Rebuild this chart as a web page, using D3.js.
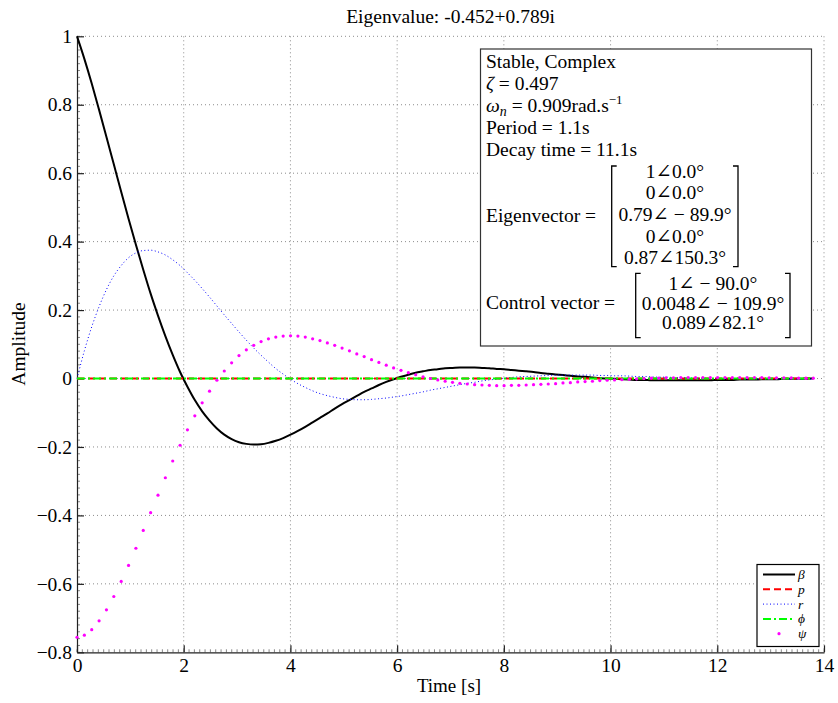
<!DOCTYPE html>
<html>
<head>
<meta charset="utf-8">
<script src="https://cdn.jsdelivr.net/npm/d3@7"></script>
<style>
body { margin: 0; background: #fff; }
svg text { font-family: "Liberation Serif", "DejaVu Serif", serif; fill: #000; }
</style>
</head>
<body>
<div id="chart"></div>
<script>
// time samples (s)
const time = [0, 0.138, 0.276, 0.414, 0.552, 0.69, 0.828, 0.966, 1.104, 1.242, 1.38, 1.518, 1.656, 1.794, 1.932,
  2.07, 2.208, 2.346, 2.484, 2.622, 2.76, 2.898, 3.036, 3.174, 3.312, 3.45, 3.588, 3.726, 3.864, 4.002,
  4.14, 4.278, 4.416, 4.554, 4.692, 4.83, 4.968, 5.106, 5.244, 5.382, 5.52, 5.658, 5.796, 5.934, 6.072,
  6.21, 6.348, 6.486, 6.624, 6.762, 6.9, 7.038, 7.176, 7.314, 7.452, 7.59, 7.728, 7.866, 8.004, 8.142,
  8.28, 8.418, 8.556, 8.694, 8.832, 8.97, 9.108, 9.246, 9.384, 9.522, 9.66, 9.798, 9.936, 10.074, 10.212,
  10.35, 10.488, 10.626, 10.764, 10.902, 11.04, 11.178, 11.316, 11.454, 11.592, 11.73, 11.868, 12.006, 12.144,
  12.282, 12.42, 12.558, 12.696, 12.834, 12.972, 13.11, 13.248, 13.386, 13.524, 13.662, 13.8];

const betaValues = [1.000, 0.934, 0.862, 0.785, 0.706, 0.626, 0.546, 0.467, 0.391, 0.318, 0.248, 0.184, 0.124, 0.069, 0.019,
  -0.024, -0.063, -0.096, -0.123, -0.146, -0.164, -0.177, -0.186, -0.191, -0.193, -0.192, -0.188, -0.182, -0.174, -0.164,
  -0.153, -0.141, -0.128, -0.115, -0.102, -0.088, -0.075, -0.063, -0.051, -0.039, -0.029, -0.019, -0.010, -0.002, 0.005,
  0.011, 0.017, 0.021, 0.025, 0.027, 0.030, 0.031, 0.032, 0.032, 0.032, 0.031, 0.030, 0.028, 0.027, 0.025,
  0.023, 0.021, 0.019, 0.016, 0.014, 0.012, 0.010, 0.008, 0.006, 0.005, 0.003, 0.001, 0.000, -0.001, -0.002,
  -0.003, -0.004, -0.004, -0.005, -0.005, -0.005, -0.005, -0.005, -0.005, -0.005, -0.005, -0.005, -0.004, -0.004, -0.004,
  -0.003, -0.003, -0.003, -0.002, -0.002, -0.002, -0.001, -0.001, -0.001, 0.000, 0.000];

const rValues = [0.000, 0.081, 0.151, 0.210, 0.260, 0.300, 0.330, 0.353, 0.367, 0.374, 0.375, 0.370, 0.361, 0.347, 0.330,
  0.309, 0.287, 0.263, 0.238, 0.212, 0.186, 0.161, 0.136, 0.112, 0.089, 0.068, 0.048, 0.029, 0.013, -0.002,
  -0.015, -0.026, -0.036, -0.044, -0.050, -0.055, -0.059, -0.061, -0.062, -0.062, -0.061, -0.059, -0.057, -0.054, -0.051,
  -0.047, -0.043, -0.039, -0.034, -0.030, -0.026, -0.022, -0.018, -0.014, -0.011, -0.007, -0.004, -0.002, 0.001, 0.003,
  0.005, 0.006, 0.007, 0.008, 0.009, 0.010, 0.010, 0.010, 0.010, 0.010, 0.010, 0.009, 0.009, 0.008, 0.008,
  0.007, 0.006, 0.006, 0.005, 0.004, 0.004, 0.003, 0.002, 0.002, 0.001, 0.001, 0.000, 0.000, 0.000, -0.001,
  -0.001, -0.001, -0.001, -0.002, -0.002, -0.002, -0.002, -0.002, -0.002, -0.002, -0.002];

const psiValues = [-0.756, -0.750, -0.734, -0.708, -0.676, -0.637, -0.593, -0.546, -0.496, -0.444, -0.392, -0.341, -0.290, -0.241, -0.195,
  -0.150, -0.109, -0.071, -0.037, -0.005, 0.022, 0.046, 0.067, 0.084, 0.097, 0.108, 0.116, 0.121, 0.124, 0.125,
  0.124, 0.121, 0.116, 0.111, 0.104, 0.097, 0.089, 0.081, 0.072, 0.064, 0.055, 0.047, 0.039, 0.031, 0.024,
  0.017, 0.011, 0.005, 0.000, -0.004, -0.008, -0.011, -0.014, -0.016, -0.018, -0.019, -0.020, -0.021, -0.021, -0.020,
  -0.020, -0.019, -0.018, -0.017, -0.016, -0.015, -0.013, -0.012, -0.010, -0.009, -0.008, -0.006, -0.005, -0.004, -0.003,
  -0.002, -0.001, 0.000, 0.001, 0.001, 0.002, 0.002, 0.003, 0.003, 0.003, 0.003, 0.003, 0.003, 0.003, 0.003,
  0.003, 0.003, 0.003, 0.003, 0.002, 0.002, 0.002, 0.002, 0.001, 0.001, 0.001];

// p and phi stay at zero over the whole run
const flatTime = [0, 13.8];
const pValues = [0, 0];
const phiValues = [0, 0];

const xTicks = [0, 2, 4, 6, 8, 10, 12, 14];
const yTicks = [-0.8, -0.6, -0.4, -0.2, 0, 0.2, 0.4, 0.6, 0.8, 1];

const titleText = "Eigenvalue: -0.452+0.789i";
const eigenvectorRows = ["1∠0.0°", "0∠0.0°", "0.79∠ − 89.9°", "0∠0.0°", "0.87∠150.3°"];
const controlRows = ["1∠ − 90.0°", "0.0048∠ − 109.9°", "0.089∠82.1°"];

const width = 838, height = 703;
const plotLeft = 77, plotRight = 824, plotTop = 36.3, plotBottom = 652.3;

const svg = d3.select("#chart").append("svg")
  .attr("width", width)
  .attr("height", height);

const x = d3.scaleLinear().domain([0, 14]).range([plotLeft, plotRight]);
const y = d3.scaleLinear().domain([-0.8, 1]).range([plotBottom, plotTop]);

// dotted grid
svg.append("g").selectAll("line").data(xTicks.slice(1)).join("line")
  .attr("x1", d => x(d)).attr("x2", d => x(d))
  .attr("y1", plotTop).attr("y2", plotBottom)
  .attr("stroke", "#8c8c8c").attr("stroke-dasharray", "1,3");
svg.append("g").selectAll("line").data(yTicks.slice(1)).join("line")
  .attr("x1", plotLeft).attr("x2", plotRight)
  .attr("y1", d => y(d)).attr("y2", d => y(d))
  .attr("stroke", "#8c8c8c").attr("stroke-dasharray", "1,3");

// minor ticks
svg.append("g").selectAll("line").data(d3.range(0, 14.001, 0.1)).join("line")
  .attr("x1", d => x(d)).attr("x2", d => x(d))
  .attr("y1", plotBottom).attr("y2", plotBottom - 3)
  .attr("stroke", "#555").attr("stroke-width", 0.7);
svg.append("g").selectAll("line").data(d3.range(-0.8, 1.001, 0.02)).join("line")
  .attr("x1", plotLeft).attr("x2", plotLeft + 3)
  .attr("y1", d => y(d)).attr("y2", d => y(d))
  .attr("stroke", "#555").attr("stroke-width", 0.7);

// axes
const fmt = d3.format("~g");
const xAxis = svg.append("g")
  .attr("transform", `translate(0,${plotBottom})`)
  .call(d3.axisBottom(x).tickValues(xTicks).tickFormat(fmt).tickSizeInner(-7).tickSizeOuter(0).tickPadding(6));
const yAxis = svg.append("g")
  .attr("transform", `translate(${plotLeft},0)`)
  .call(d3.axisLeft(y).tickValues(yTicks).tickFormat(fmt).tickSizeInner(-7).tickSizeOuter(0).tickPadding(5));
[xAxis, yAxis].forEach(g => {
  g.selectAll("text").style("font-family", '"Liberation Serif", serif').style("font-size", "19.5px");
  g.select(".domain").attr("stroke", "#222").attr("stroke-width", 1.2);
  g.selectAll(".tick line").attr("stroke", "#222").attr("stroke-width", 1.2);
});

// series
const line = d3.line().x(d => x(d[0])).y(d => y(d[1])).curve(d3.curveMonotoneX);

svg.append("path").datum(d3.zip(time, betaValues))
  .attr("d", line).attr("fill", "none")
  .attr("stroke", "#000").attr("stroke-width", 2);

svg.append("path").datum(d3.zip(flatTime, pValues))
  .attr("d", line).attr("fill", "none")
  .attr("stroke", "#ff0000").attr("stroke-width", 2).attr("stroke-dasharray", "7,4");

svg.append("path").datum(d3.zip(time, rValues))
  .attr("d", line).attr("fill", "none")
  .attr("stroke", "#0000ff").attr("stroke-width", 1).attr("stroke-dasharray", "1,2.5");

svg.append("path").datum(d3.zip(flatTime, phiValues))
  .attr("d", line).attr("fill", "none")
  .attr("stroke", "#00ff00").attr("stroke-width", 2).attr("stroke-dasharray", "8,3,2,3");

svg.append("g").selectAll("circle").data(d3.zip(time, psiValues)).join("circle")
  .attr("cx", d => x(d[0])).attr("cy", d => y(d[1]))
  .attr("r", 1.6).attr("fill", "#ff00ff");

// title and axis labels
svg.append("text").attr("x", (plotLeft + plotRight) / 2).attr("y", 22.7)
  .attr("text-anchor", "middle").style("font-size", "19.5px").text(titleText);
svg.append("text").attr("x", 449).attr("y", 692)
  .attr("text-anchor", "middle").style("font-size", "19px").text("Time [s]");
svg.append("text").attr("transform", "translate(25,344) rotate(-90)")
  .attr("text-anchor", "middle").style("font-size", "19.5px").text("Amplitude");

// info box
const info = svg.append("g").style("font-size", "19.5px");
info.append("rect").attr("x", 480.5).attr("y", 49).attr("width", 331).attr("height", 297)
  .attr("fill", "#fff").attr("stroke", "#333").attr("stroke-width", 1.2);

const tx = 486;
info.append("text").attr("x", tx).attr("y", 68.3).text("Stable, Complex");
let t = info.append("text").attr("x", tx).attr("y", 89.5);
t.append("tspan").style("font-style", "italic").text("ζ");
t.append("tspan").text(" = 0.497");
t = info.append("text").attr("x", tx).attr("y", 111.7);
t.append("tspan").style("font-style", "italic").text("ω");
t.append("tspan").style("font-style", "italic").style("font-size", "14px").attr("dy", 4).text("n");
t.append("tspan").attr("dy", -4).text(" = 0.909rad.s");
t.append("tspan").style("font-size", "13px").attr("dy", -8).text("−1");
info.append("text").attr("x", tx).attr("y", 134.3).text("Period = 1.1s");
info.append("text").attr("x", tx).attr("y", 156).text("Decay time = 11.1s");

function bracket(x0, x1, y0, y1) {
  const s = 5;
  info.append("path")
    .attr("d", `M${x0 + s},${y0}H${x0}V${y1}H${x0 + s}M${x1 - s},${y0}H${x1}V${y1}H${x1 - s}`)
    .attr("fill", "none").attr("stroke", "#000").attr("stroke-width", 1.3);
}

info.append("text").attr("x", tx).attr("y", 221.7).text("Eigenvector =");
bracket(611.7, 738, 166, 266.7);
info.append("g").selectAll("text").data(eigenvectorRows).join("text")
  .attr("x", 675).attr("y", (d, i) => 177.7 + i * 21.6)
  .attr("text-anchor", "middle").text(d => d);

info.append("text").attr("x", tx).attr("y", 309.3).text("Control vector =");
bracket(635.7, 790, 273.3, 337.7);
info.append("g").selectAll("text").data(controlRows).join("text")
  .attr("x", 713).attr("y", (d, i) => 290 + i * 19.7)
  .attr("text-anchor", "middle").text(d => d);

// legend
const legendItems = [
  { label: "β", color: "#000", width: 2, dash: null },
  { label: "p", color: "#ff0000", width: 2, dash: "7,4" },
  { label: "r", color: "#0000ff", width: 1, dash: "1,2.5" },
  { label: "ϕ", color: "#00ff00", width: 2, dash: "8,3,2,3" },
  { label: "ψ", color: "#ff00ff", width: 0, dash: null }
];
const legend = svg.append("g");
legend.append("rect").attr("x", 757).attr("y", 564.5).attr("width", 62).attr("height", 82)
  .attr("fill", "#fff").attr("stroke", "#000").attr("stroke-width", 1.2);
const rows = legend.selectAll("g").data(legendItems).join("g")
  .attr("transform", (d, i) => `translate(0,${574.5 + i * 14.8})`);
rows.filter(d => d.width > 0).append("line")
  .attr("x1", 763).attr("x2", 795)
  .attr("stroke", d => d.color).attr("stroke-width", d => d.width)
  .attr("stroke-dasharray", d => d.dash);
rows.filter(d => d.width === 0).append("circle")
  .attr("cx", 779).attr("r", 1.6).attr("fill", d => d.color);
rows.append("text").attr("x", 798).attr("y", 4.5)
  .style("font-style", "italic").style("font-size", "13.5px").text(d => d.label);
</script>
</body>
</html>
